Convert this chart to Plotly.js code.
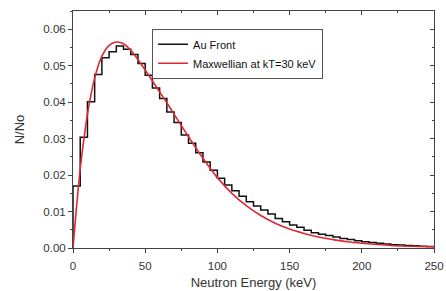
<!DOCTYPE html>
<html>
<head>
<meta charset="utf-8">
<script src="https://cdn.plot.ly/plotly-3.0.1.min.js"></script>
<style>html,body{margin:0;padding:0;background:#fff;}#chart{width:446px;height:291px;}</style>
</head>
<body>
<div id="chart"></div>
<script>
// Histogram bin left edges (keV), bin width 5 keV
const binEdges = [0,5,10,15,20,25,30,35,40,45,50,55,60,65,70,75,80,85,90,95,100,105,110,115,120,125,130,135,140,145,150,155,160,165,170,175,180,185,190,195,200,205,210,215,220,225,230,235,240,245,250];
// Au Front measured spectrum (N/No per bin)
const auFront = [0.0170,0.0304,0.0401,0.0476,0.0522,0.0538,0.0554,0.0545,0.0531,0.0506,
                 0.0474,0.0439,0.0410,0.0373,0.0344,0.0310,0.0287,0.0261,0.0236,0.0213,
                 0.0191,0.0173,0.0157,0.0142,0.0127,0.0115,0.0104,0.0093,0.0081,0.0072,
                 0.0063,0.0057,0.0049,0.0042,0.0038,0.0034,0.0030,0.0026,0.0023,0.0020,
                 0.0017,0.0015,0.0013,0.0011,0.0009,0.0008,0.0007,0.0006,0.0005,0.0004];
// Maxwellian at kT = 30 keV
const maxE = [0,2.5,5,7.5,10,15,20,25,30,35,40,45,50,55,60,65,70,75,80,85,90,95,100,110,120,130,140,150,160,170,180,190,200,220,250];
const maxY = [0,0.0116,0.0217,0.0297,0.0367,0.0466,0.0526,0.0556,0.0565,0.0560,0.0542,0.0517,0.0488,0.0458,0.0428,0.0398,0.0367,0.0336,0.0305,0.0275,0.0246,0.0219,0.0193,0.0150,0.0116,0.0089,0.0068,0.0052,0.0040,0.0030,0.0023,0.0017,0.0013,0.0007,0.0003];

// step path: start at (0,0), go up, then steps
const stepX = [binEdges[0]];
const stepY = [0];
for (let i = 0; i < auFront.length; i++) { stepX.push(binEdges[i]); stepY.push(auFront[i]); }
stepX.push(binEdges[binEdges.length-1]); stepY.push(auFront[auFront.length-1]);

const axisColor = '#444';
const traces = [
  {x: stepX, y: stepY, type: 'scatter', mode: 'lines', name: 'Au Front',
   line: {color: '#111', width: 1.5, shape: 'hv'}},
  {x: maxE, y: maxY, type: 'scatter', mode: 'lines', name: 'Maxwellian at kT=30 keV',
   line: {color: '#dc2a33', width: 1.6, shape: 'spline', smoothing: 0.8}},
  {x: [0], y: [0], xaxis: 'x2', yaxis: 'y2', mode: 'markers', marker: {opacity: 0}, showlegend: false, hoverinfo: 'skip'}
];

const layout = {
  width: 446, height: 291,
  margin: {l: 73, r: 12, t: 11, b: 43},
  paper_bgcolor: '#fff', plot_bgcolor: '#fff',
  font: {family: 'Liberation Sans, Arial, sans-serif', color: '#333', size: 11},
  showlegend: true,
  legend: {x: 0.219, y: 0.925, xanchor: 'left', yanchor: 'top',
           bordercolor: '#555', borderwidth: 1, bgcolor: '#fff',
           font: {size: 11, color: '#111'}, tracegroupgap: 0},
  xaxis: {range: [0, 250], tickvals: [0,50,100,150,200,250], ticks: 'outside', ticklen: 4,
          tickcolor: axisColor, showline: true, linecolor: axisColor, linewidth: 1,
          showgrid: false, zeroline: false, ticklabeloverflow: 'allow', ticklabelstandoff: 3,
          minor: {ticks: 'outside', ticklen: 2, tickcolor: axisColor, dtick: 25},
          tickfont: {size: 11.5, color: '#333'},
          title: {text: 'Neutron Energy (keV)', font: {size: 13, color: '#333'}, standoff: 7}},
  yaxis: {range: [0, 0.065], tickvals: [0,0.01,0.02,0.03,0.04,0.05,0.06], tickformat: '.2f',
          ticks: 'outside', ticklen: 4, tickcolor: axisColor, showline: true, linecolor: axisColor,
          linewidth: 1, showgrid: false, zeroline: false,
          minor: {ticks: 'outside', ticklen: 2, tickcolor: axisColor, dtick: 0.005},
          tickfont: {size: 11.5, color: '#333'},
          title: {text: 'N/No', font: {size: 13, color: '#333'}, standoff: 15}},
  xaxis2: {overlaying: 'x', side: 'top', range: [0, 250], tickvals: [0,50,100,150,200,250],
           ticks: 'inside', ticklen: 4, tickcolor: axisColor, showline: true, linecolor: axisColor,
           linewidth: 1, showticklabels: false, showgrid: false, zeroline: false,
           minor: {ticks: 'inside', ticklen: 2, tickcolor: axisColor, dtick: 25}},
  yaxis2: {overlaying: 'y', side: 'right', range: [0, 0.065], tickvals: [0,0.01,0.02,0.03,0.04,0.05,0.06],
           ticks: 'inside', ticklen: 4, tickcolor: axisColor, showline: true, linecolor: axisColor,
           linewidth: 1, showticklabels: false, showgrid: false, zeroline: false,
           minor: {ticks: 'inside', ticklen: 2, tickcolor: axisColor, dtick: 0.005}}
};

Plotly.newPlot('chart', traces, layout, {displayModeBar: false, staticPlot: true});
</script>
</body>
</html>
